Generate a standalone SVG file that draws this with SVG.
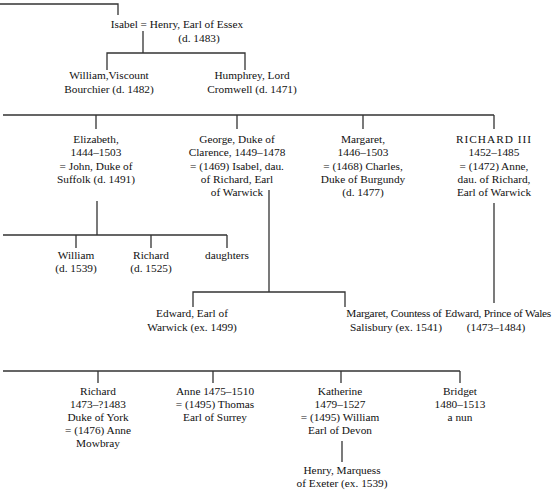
<svg xmlns="http://www.w3.org/2000/svg" width="555" height="492" viewBox="0 0 555 492">
<style>
text{font-family:"Liberation Serif","Times New Roman",serif;font-size:11.3px;fill:#111;text-anchor:middle}
.c path{fill:none;stroke:#333;stroke-width:1.3}
.caps{letter-spacing:1px}
.tight{letter-spacing:-0.25px}
</style>
<rect width="555" height="492" fill="#fff"/>
<g class="c" id="connectors">
<path d="M0 4H118V15"/>
<path d="M143 31V53M107 70V53H245V70"/>
<path d="M3 115H494M96 115V129M237 115V129M363 115V129M494 115V129"/>
<path d="M97 201V235M3 235H227M76 235V248M151 235V248M227 235V248"/>
<path d="M269 190V292M193 307V292H345V307"/>
<path d="M494 203V303"/>
<path d="M3 371H460M98 371V383M213 371V383M341 371V383M460 371V383"/>
<path d="M342 441V462"/>
</g>
<g id="isabel"><text x="177" y="28">Isabel = Henry, Earl of Essex</text><text x="199" y="41.5">(d. 1483)</text></g>
<g id="william-bourchier"><text x="109" y="79">William,Viscount</text><text x="109" y="92.5">Bourchier (d. 1482)</text></g>
<g id="humphrey"><text x="252" y="79">Humphrey, Lord</text><text x="252" y="92.5">Cromwell (d. 1471)</text></g>
<g id="elizabeth"><text x="96" y="143">Elizabeth,</text><text x="96" y="156.3">1444–1503</text><text x="96" y="169.6">= John, Duke of</text><text x="96" y="183">Suffolk (d. 1491)</text></g>
<g id="george"><text x="237" y="143">George, Duke of</text><text x="237" y="156.3">Clarence, 1449–1478</text><text x="237" y="169.6">= (1469) Isabel, dau.</text><text x="237" y="183">of Richard, Earl</text><text x="237" y="196.2">of Warwick</text></g>
<g id="margaret"><text x="363" y="143">Margaret,</text><text x="363" y="156.3">1446–1503</text><text x="363" y="169.6">= (1468) Charles,</text><text x="363" y="183">Duke of Burgundy</text><text x="363" y="196.2">(d. 1477)</text></g>
<g id="richard3"><text x="494" y="143" class="caps">RICHARD III</text><text x="494" y="156.3">1452–1485</text><text x="494" y="169.6">= (1472) Anne,</text><text x="494" y="183">dau. of Richard,</text><text x="494" y="196.2">Earl of Warwick</text></g>
<g id="william"><text x="76" y="258.5">William</text><text x="76" y="272">(d. 1539)</text></g>
<g id="richard-s"><text x="151" y="258.5">Richard</text><text x="151" y="272">(d. 1525)</text></g>
<g id="daughters"><text x="227" y="258.5">daughters</text></g>
<g id="edward-warwick"><text x="192" y="317">Edward, Earl of</text><text x="192" y="330.5">Warwick (ex. 1499)</text></g>
<g id="margaret-salisbury"><text x="394" y="317" class="tight">Margaret, Countess of</text><text x="396" y="330.5">Salisbury (ex. 1541)</text></g>
<g id="edward-wales"><text x="498" y="317" class="tight">Edward, Prince of Wales</text><text x="496" y="330.5">(1473–1484)</text></g>
<g id="richard-york"><text x="98" y="394.5">Richard</text><text x="98" y="407.5">1473–?1483</text><text x="98" y="420.5">Duke of York</text><text x="98" y="433.5">= (1476) Anne</text><text x="98" y="446.5">Mowbray</text></g>
<g id="anne"><text x="215" y="394.5">Anne 1475–1510</text><text x="215" y="407.5">= (1495) Thomas</text><text x="215" y="420.5">Earl of Surrey</text></g>
<g id="katherine"><text x="340" y="394.5">Katherine</text><text x="340" y="407.5">1479–1527</text><text x="340" y="420.5">= (1495) William</text><text x="340" y="433.5">Earl of Devon</text></g>
<g id="bridget"><text x="460" y="394.5">Bridget</text><text x="460" y="407.5">1480–1513</text><text x="460" y="420.5">a nun</text></g>
<g id="henry"><text x="342" y="473.5">Henry, Marquess</text><text x="342" y="487">of Exeter (ex. 1539)</text></g>
</svg>
